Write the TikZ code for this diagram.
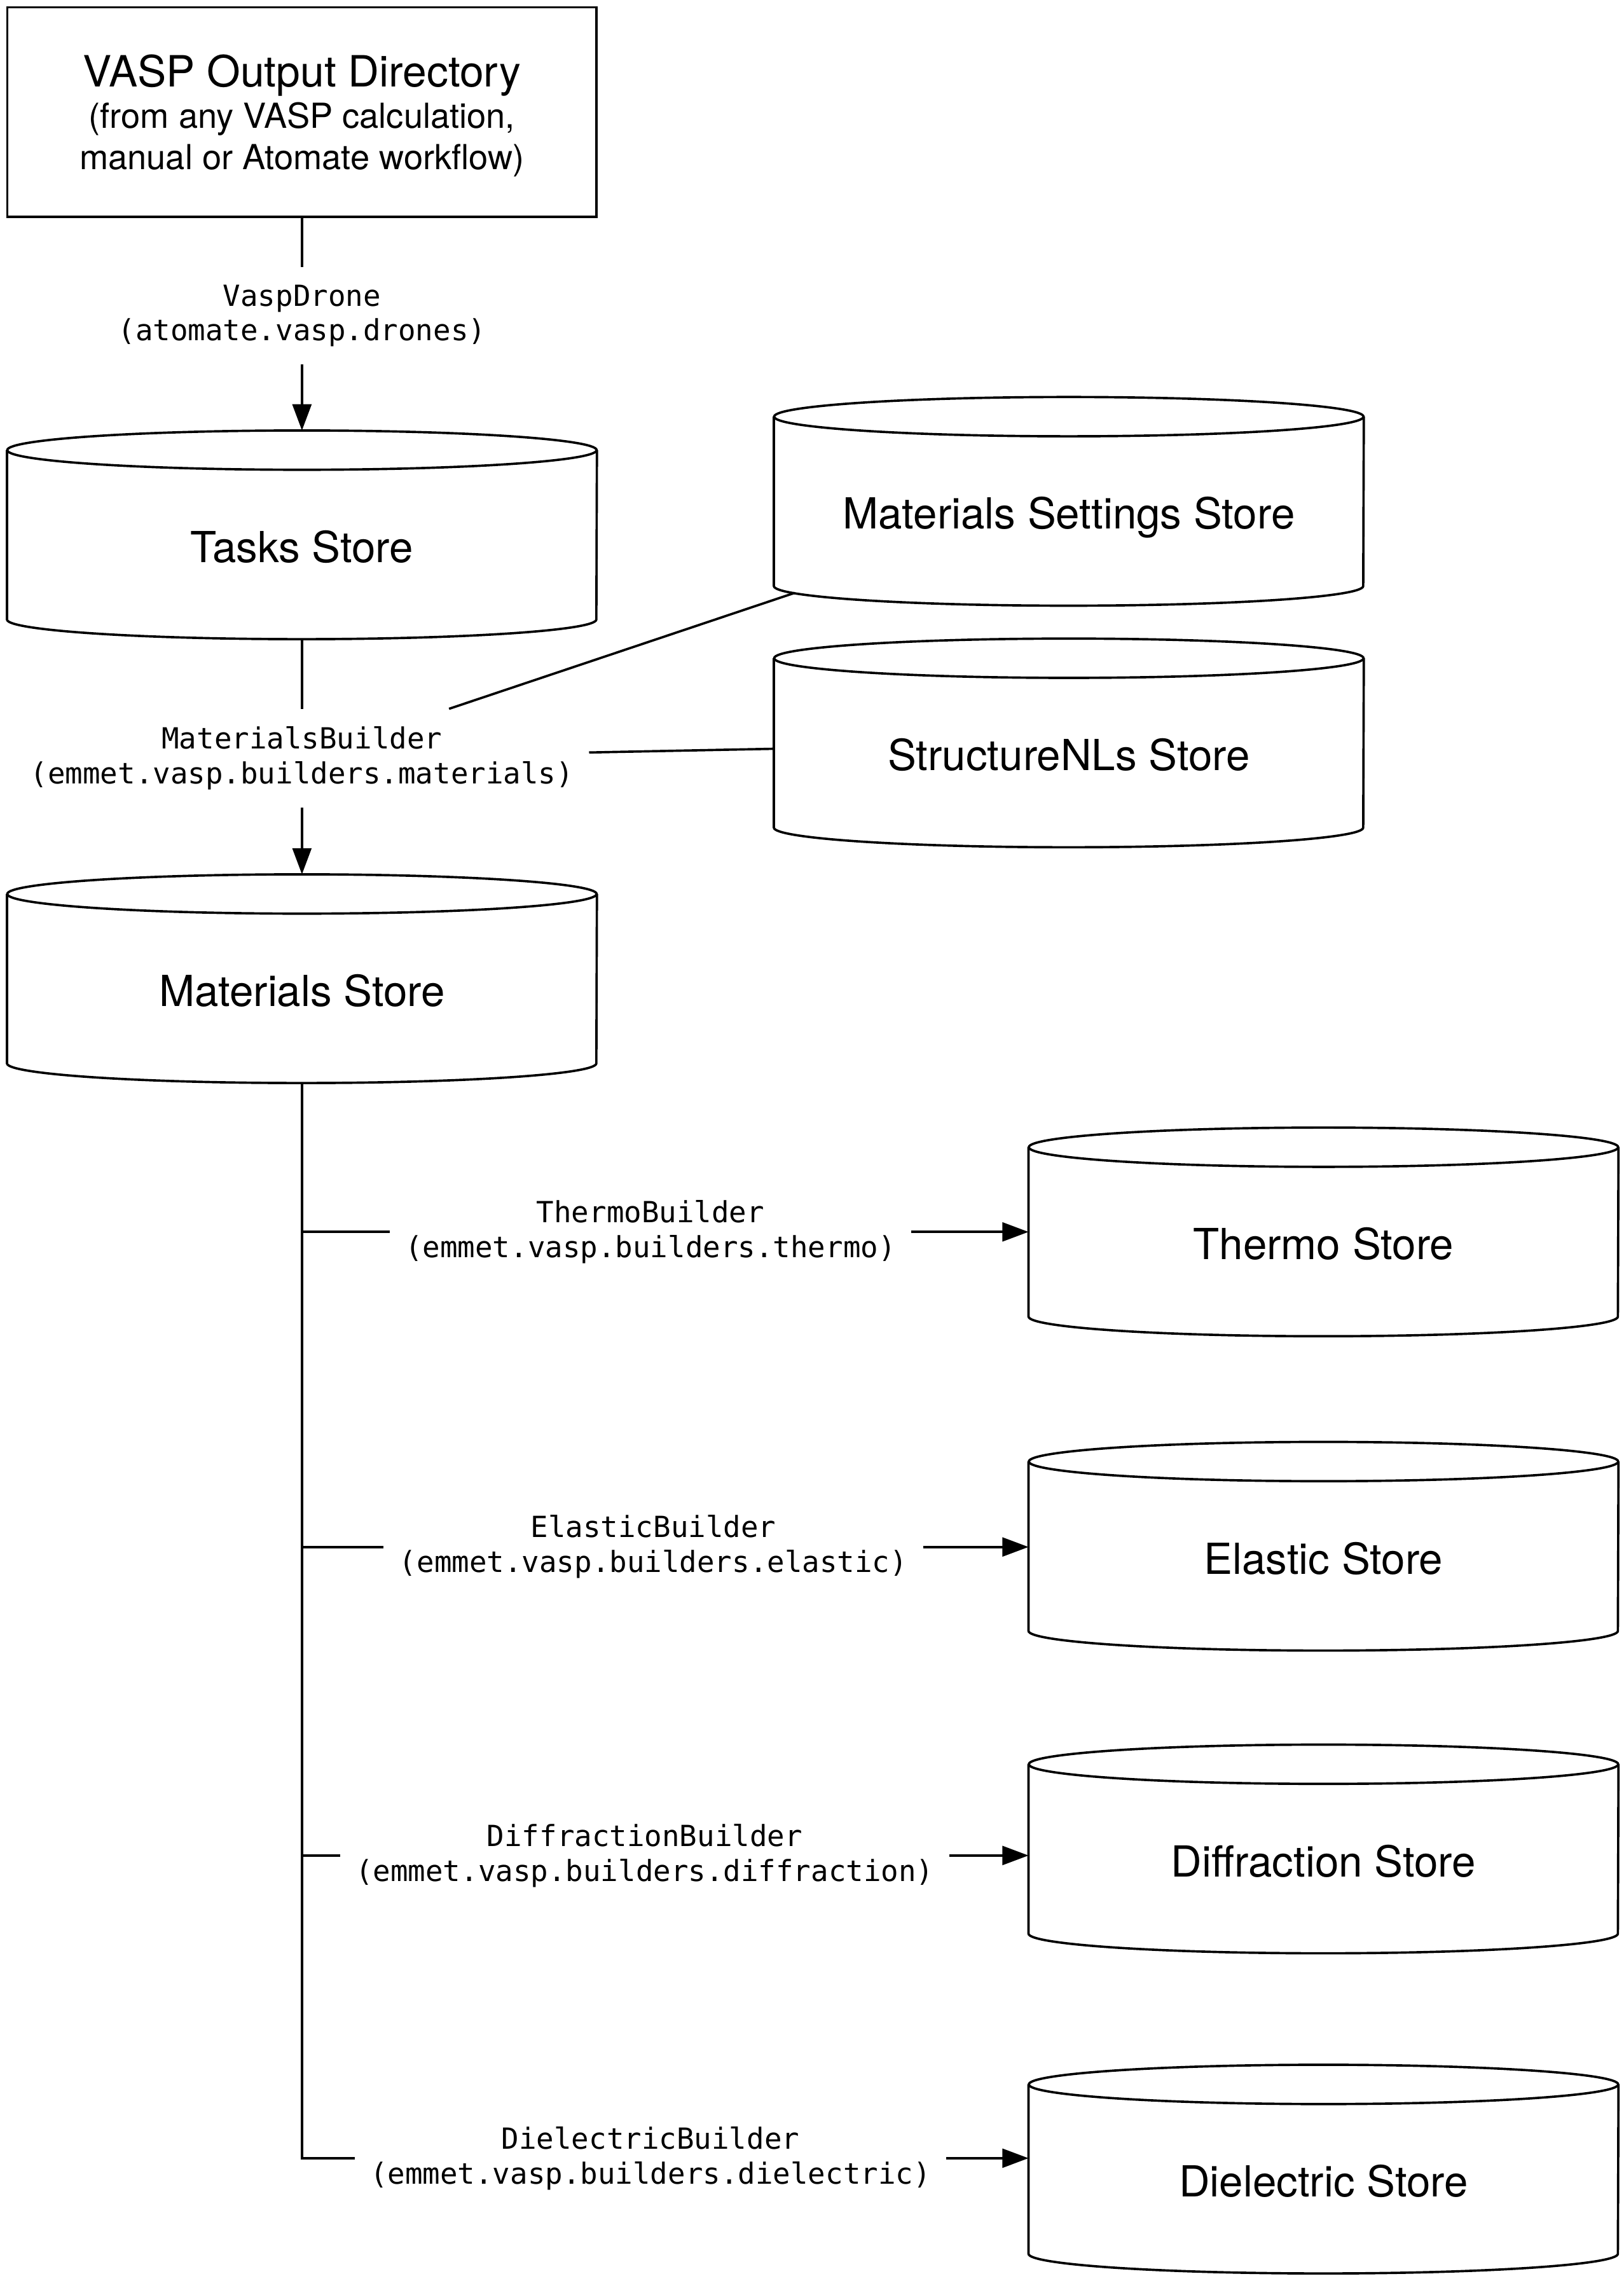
\documentclass[tikz,border=0pt]{standalone}
\usepackage{fontspec}
\setmainfont{TeX Gyre Heros}
\newfontfamily\monofont{DejaVu Sans Mono}
\usetikzlibrary{arrows.meta,calc}
\tikzset{
  ln/.style={line width=1.6pt, draw=black},
  arr/.style={ln, -{Triangle[length=18pt,width=13pt]}},
  store/.style={rectangle, minimum width=405pt, minimum height=143pt, inner sep=0pt,
    font=\fontsize{29.4pt}{34pt}\selectfont, text height=38pt, text depth=0pt},
  srcbox/.style={ln, rectangle, minimum width=405pt, minimum height=144pt, inner sep=0pt,
    align=center, font=\fontsize{23.7pt}{28.5pt}\selectfont},
  lab/.style={align=center, inner xsep=10.5pt, inner ysep=12pt,
    font=\monofont\fontsize{20pt}{24pt}\selectfont},
}
\newcommand\drawcyl[1]{%
  \draw[ln] ($(#1.north west)+(0pt,-13.5pt)$) -- ($(#1.south west)+(0pt,13.5pt)$)
    arc[start angle=180, end angle=360, x radius=202.5pt, y radius=13.5pt]
    -- ($(#1.north east)+(0pt,-13.5pt)$);
  \draw[ln] ($(#1.north)+(0pt,-13.5pt)$) ellipse [x radius=202.5pt, y radius=13.5pt];
}
\begin{document}
\begin{tikzpicture}[x=1pt,y=-1pt]
\useasboundingbox[fill=white] (0,0) rectangle (1116,1567.4);

\node[srcbox, text depth=0pt] (vasp) at (207.5,77) {{\fontsize{29.6pt}{29pt}\selectfont VASP Output Directory}\\(from any VASP calculation,\\manual or Atomate workflow)};

\node[lab] (drone) at (207.5,217) {VaspDrone\\(atomate.vasp.drones)};

\node[store] (tasks) at (207.5,367.5) {Tasks Store};
\node[store] (mss) at (734.5,344.5) {Materials Settings Store};
\node[store] (snl) at (734.5,510.5) {StructureNLs Store};

\node[lab] (mb) at (207.5,521) {MaterialsBuilder\\(emmet.vasp.builders.materials)};

\node[store] (mat) at (207.5,672.5) {Materials Store};

\node[store] (thermo) at (909.5,846.5) {Thermo Store};
\node[store] (elastic) at (909.5,1062.5) {Elastic Store};
\node[store] (diff) at (909.5,1270.5) {Diffraction Store};
\node[store] (diel) at (909.5,1490.5) {Dielectric Store};

\node[lab] (thermoL) at (447,846.5) {ThermoBuilder\\(emmet.vasp.builders.thermo)};
\node[lab] (elasticL) at (449,1063) {ElasticBuilder\\(emmet.vasp.builders.elastic)};
\node[lab] (diffL) at (443,1275) {DiffractionBuilder\\(emmet.vasp.builders.diffraction)};
\node[lab] (dielL) at (447,1483) {DielectricBuilder\\(emmet.vasp.builders.dielectric)};

\foreach \n in {tasks,mss,snl,mat,thermo,elastic,diff,diel} {\drawcyl{\n}}

\draw[ln] (vasp) -- (drone);
\draw[arr] (drone) -- (tasks);
\draw[ln] (tasks) -- (mb);
\draw[arr] (mb) -- (mat);
\draw[ln, shorten >=-15pt] (mb) -- (mss);
\draw[ln] (mb) -- (snl);

\draw[ln] (mat) |- (dielL);
\draw[ln] (mat.south |- thermoL) -- (thermoL);
\draw[ln] (mat.south |- elasticL) -- (elasticL);
\draw[ln] (mat.south |- diffL) -- (diffL);

\draw[arr] (thermoL) -- (thermoL -| thermo.west);
\draw[arr] (elasticL) -- (elasticL -| elastic.west);
\draw[arr] (diffL) -- (diffL -| diff.west);
\draw[arr] (dielL) -- (dielL -| diel.west);
\end{tikzpicture}
\end{document}
